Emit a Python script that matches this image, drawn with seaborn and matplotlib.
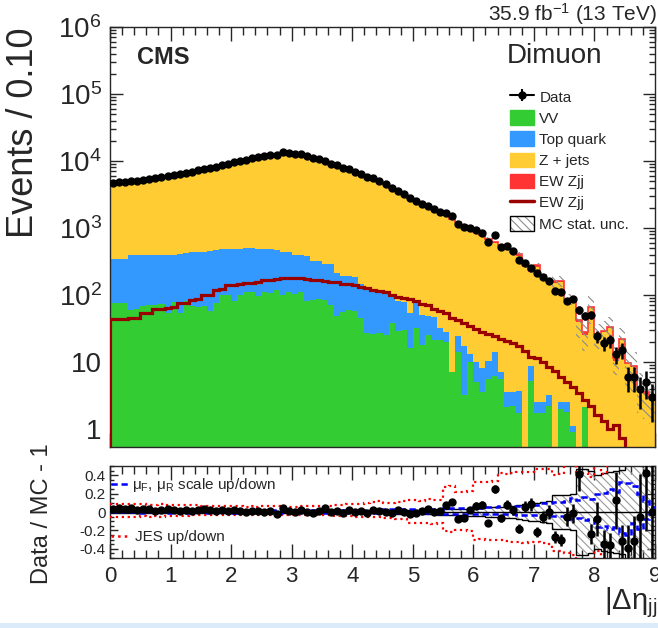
import numpy as np
import pandas as pd
import matplotlib
matplotlib.use("Agg")
import matplotlib.pyplot as plt
import seaborn as sns
from matplotlib.patches import Patch, Rectangle
from matplotlib.lines import Line2D
from matplotlib.legend_handler import HandlerTuple
from matplotlib.ticker import MultipleLocator, LogLocator, FuncFormatter, NullFormatter

# ------------------------------------------------------------------ data
bin_low, bin_high, n_bins = 0.0, 9.0, 90

vv = [76, 76, 75, 60, 62, 68, 70, 71, 72, 54,
      78, 54, 80, 68, 67, 68, 58, 76, 100, 100,
      82, 100, 112, 110, 95, 110, 108, 120, 100, 112,
      105, 112, 82, 85, 86, 84, 71, 48, 56, 59,
      58, 45, 27, 26, 27, 25, 38, 29, 30, 16,
      32, 18, 25, 21, 21, 20, 7, 14, 3.2, 10,
      5, 3.5, 5.5, 6.2, 5.5, 2.1, 2.2, 1.7, 0, 5.2,
      1.7, 1.7, 2.2, 0, 2.0, 1.8, 0.9, 0, 2.1, 0,
      0, 0, 0, 0, 0, 0, 0, 0, 0, 0]

top_quark = [264, 264, 270, 330, 328, 327, 328, 329, 328, 344,
             322, 356, 350, 368, 373, 377, 392, 394, 380, 385,
             408, 390, 383, 385, 395, 370, 370, 355, 345, 328,
             290, 278, 303, 240, 234, 206, 214, 167, 139, 131,
             127, 100, 93, 94, 91, 82, 58, 51, 48, 38,
             44, 33, 23, 26, 11, 8, 0, 10, 13.8, 3,
             5, 4.5, 5, 7.8, 1.5, 1.4, 1.3, 2.0, 0, 3.5,
             0.8, 0.8, 1.0, 0, 0.5, 0.7, 0.2, 0, 0, 0,
             0, 0, 0, 0, 0, 0, 0, 0, 0, 0]

z_jets = [4237, 4297, 4402, 4465, 4575, 4682, 4799, 4968, 5158, 5359,
          5564, 5755, 5954, 6239, 6554, 6865, 7209, 7542, 8009, 8395,
          8807, 9254, 9705, 10193, 10575, 11105, 11512, 11943, 12258, 12262,
          12167, 11734, 11193, 10595, 9982, 9318, 8677, 8140, 7597, 7076,
          6595, 6105, 5645, 5130, 4666, 4251, 3784, 3378, 2993, 2680,
          2354, 2165, 1972, 1801, 1651, 1469, 1327, 1164, 1045, 933,
          829, 744, 654, 582, 521, 466, 418, 383, 264, 211,
          262, 183, 150, 152, 151, 79, 84, 39, 23, 65,
          24.4, 27.7, 32, 10.4, 21.3, 9.5, 8.5, 4.0, 3.3, 2.8]

ew_zjj = [43, 43, 43, 45, 45, 53, 53, 62, 62, 63,
          66, 75, 76, 85, 86, 100, 101, 118, 121, 140,
          143, 146, 150, 152, 155, 165, 170, 172, 177, 178,
          178, 176, 172, 170, 168, 162, 158, 155, 148, 144,
          140, 130, 125, 120, 116, 112, 100, 92, 89, 86,
          80, 74, 70, 62, 57, 53, 46, 42, 38, 34,
          31, 28, 26, 24, 22, 20.5, 19, 17, 14.5, 12,
          11.5, 10, 8.5, 7.2, 6.0, 5.0, 4.2, 3.4, 2.7, 2.2,
          1.6, 1.3, 1.0, 1.15, 0.72, 0.3, 0.3, 0.25, 0.2, 0.2]

data_counts = [4759, 4867, 4934, 5096, 5110, 5284, 5408, 5484, 5732, 5995,
               6151, 6302, 6589, 6828, 7222, 7632, 7915, 8211, 8782, 9110,
               9629, 9989, 10350, 10948, 11332, 11750, 12282, 12338, 13395, 13009,
               12740, 12546, 11750, 10979, 10575, 10161, 9120, 8595, 7861, 7558,
               6920, 6444, 5831, 5477, 4949, 4470, 3940, 3621, 3160, 2764,
               2485, 2313, 2153, 1910, 1757, 1674, 1532, 1132, 1034, 1000,
               931, 842, 607, 775, 512, 529, 449, 331, 295, 251,
               215, 185, 162, 116, 111, 82, 88, 60, 49, 51,
               24, 19, 21, 13, 15, 6, 6, 4, 5, 3]

mc_stat_rel = [0.012, 0.012, 0.012, 0.011, 0.011, 0.011, 0.011, 0.010, 0.010, 0.010,
               0.010, 0.010, 0.010, 0.010, 0.010, 0.010, 0.010, 0.010, 0.010, 0.010,
               0.010, 0.010, 0.010, 0.010, 0.010, 0.010, 0.010, 0.010, 0.010, 0.010,
               0.010, 0.010, 0.011, 0.011, 0.011, 0.012, 0.012, 0.012, 0.013, 0.013,
               0.014, 0.014, 0.015, 0.015, 0.016, 0.017, 0.018, 0.019, 0.020, 0.021,
               0.022, 0.023, 0.025, 0.026, 0.028, 0.030, 0.032, 0.034, 0.036, 0.040,
               0.045, 0.048, 0.050, 0.052, 0.055, 0.060, 0.070, 0.080, 0.090, 0.095,
               0.100, 0.110, 0.120, 0.190, 0.190, 0.190, 0.200, 0.470, 0.470, 0.450,
               0.400, 0.420, 0.440, 0.450, 0.460, 0.600, 0.600, 0.600, 0.600, 0.600]

scale_up = [0.022, 0.020, 0.021, 0.019, 0.020, 0.021, 0.020, 0.019, 0.020, 0.021,
            0.020, 0.019, 0.020, 0.021, 0.020, 0.019, 0.020, 0.020, 0.021, 0.020,
            0.019, 0.020, 0.020, 0.021, 0.020, 0.019, 0.020, 0.021, 0.020, 0.020,
            0.021, 0.020, 0.020, 0.022, 0.021, 0.022, 0.023, 0.022, 0.024, 0.025,
            0.025, 0.026, 0.027, 0.026, 0.028, 0.030, 0.029, 0.031, 0.032, 0.030,
            0.033, 0.034, 0.036, 0.035, 0.038, 0.040, 0.042, 0.045, 0.043, 0.048,
            0.050, 0.048, 0.052, 0.055, 0.060, 0.065, 0.062, 0.070, 0.075, 0.072,
            0.080, 0.095, 0.100, 0.110, 0.105, 0.120, 0.150, 0.130, 0.160, 0.140,
            0.200, 0.210, 0.250, 0.220, 0.330, 0.320, 0.280, 0.200, 0.120, 0.050]

scale_down = [-0.004, -0.005, -0.003, -0.005, -0.004, -0.006, -0.005, -0.004, -0.005, -0.006,
              -0.005, -0.004, -0.006, -0.005, -0.004, -0.005, -0.006, -0.005, -0.004, -0.005,
              -0.006, -0.005, -0.004, -0.005, -0.006, -0.005, -0.004, -0.005, -0.006, -0.005,
              -0.005, -0.006, -0.005, -0.007, -0.006, -0.008, -0.007, -0.008, -0.009, -0.010,
              -0.010, -0.011, -0.010, -0.012, -0.012, -0.013, -0.012, -0.014, -0.015, -0.014,
              -0.015, -0.016, -0.015, -0.017, -0.018, -0.017, -0.019, -0.020, -0.018, -0.021,
              -0.020, -0.022, -0.021, -0.024, -0.025, -0.023, -0.027, -0.030, -0.028, -0.032,
              -0.035, -0.040, -0.042, -0.045, -0.040, -0.055, -0.080, -0.070, -0.090, -0.080,
              -0.160, -0.150, -0.180, -0.160, -0.230, -0.250, -0.120, -0.180, -0.080, -0.020]

jes_up = [0.085, 0.086, 0.083, 0.085, 0.082, 0.084, 0.081, 0.080, 0.083, 0.080,
          0.079, 0.076, 0.078, 0.074, 0.071, 0.070, 0.066, 0.062, 0.060, 0.064,
          0.061, 0.060, 0.057, 0.060, 0.059, 0.061, 0.064, 0.060, 0.058, 0.056,
          0.059, 0.061, 0.064, 0.060, 0.062, 0.065, 0.069, 0.071, 0.078, 0.085,
          0.090, 0.092, 0.100, 0.110, 0.118, 0.100, 0.102, 0.110, 0.118, 0.130,
          0.128, 0.122, 0.138, 0.132, 0.130, 0.270, 0.280, 0.220, 0.218, 0.230,
          0.330, 0.328, 0.322, 0.340, 0.420, 0.410, 0.420, 0.430, 0.432, 0.440,
          0.470, 0.468, 0.462, 0.400, 0.410, 0.620, 0.550, 0.400, 0.420, 0.380,
          0.550, 0.410, 0.600, 0.620, 0.700, 0.650, 0.700, 0.750, 0.700, 0.700]

jes_down = [-0.050, -0.052, -0.049, -0.050, -0.051, -0.048, -0.050, -0.047, -0.049, -0.046,
            -0.045, -0.043, -0.040, -0.038, -0.036, -0.034, -0.032, -0.030, -0.031, -0.029,
            -0.030, -0.028, -0.031, -0.030, -0.029, -0.032, -0.030, -0.028, -0.031, -0.030,
            -0.029, -0.031, -0.033, -0.030, -0.034, -0.036, -0.038, -0.040, -0.045, -0.048,
            -0.050, -0.049, -0.052, -0.050, -0.055, -0.068, -0.070, -0.072, -0.075, -0.118,
            -0.120, -0.122, -0.118, -0.125, -0.120, -0.210, -0.212, -0.200, -0.198, -0.205,
            -0.300, -0.298, -0.305, -0.300, -0.300, -0.320, -0.330, -0.330, -0.335, -0.330,
            -0.330, -0.340, -0.350, -0.420, -0.420, -0.450, -0.470, -0.600, -0.600, -0.550,
            -0.420, -0.600, -0.550, -0.650, -0.600, -0.700, -0.700, -0.700, -0.700, -0.700]

process_names = ["EW Zjj", "Z + jets", "Top quark", "VV"]   # stack: first = top
legend_labels = ["Data", "VV", "Top quark", "Z + jets", "EW Zjj", "EW Zjj", "MC stat. unc."]

# ------------------------------------------------------------------ style
sns.set_style("ticks")
plt.rcParams["font.family"] = ["Liberation Sans", "DejaVu Sans"]
plt.rcParams["mathtext.fontset"] = "custom"
plt.rcParams["mathtext.rm"] = "Liberation Sans"
plt.rcParams["mathtext.it"] = "Liberation Sans:italic"
plt.rcParams["mathtext.bf"] = "Liberation Sans:bold"
plt.rcParams["hatch.linewidth"] = 0.8
plt.rcParams["axes.linewidth"] = 1.0

c_vv, c_top, c_zj, c_ewf, c_ewl = "#33cc33", "#3399ff", "#ffcc33", "#ff3333", "#990000"
palette = {"VV": c_vv, "Top quark": c_top, "Z + jets": c_zj, "EW Zjj": c_ewf}

edges = np.linspace(bin_low, bin_high, n_bins + 1)
centers = 0.5 * (edges[:-1] + edges[1:])
vv_a, top_a, zj_a, ew_a = map(np.asarray, (vv, top_quark, z_jets, ew_zjj))
data_a = np.asarray(data_counts, dtype=float)
mc_total = vv_a + top_a + zj_a + ew_a
mc_rel = np.asarray(mc_stat_rel)

df = pd.DataFrame({
    "x": np.tile(centers, 4),
    "w": np.concatenate([ew_a, zj_a, top_a, vv_a]).astype(float),
    "process": np.repeat(process_names, n_bins),
})

W, H = 658, 628
fig = plt.figure(figsize=(W / 100, H / 100), dpi=100)
ax1 = fig.add_axes([110 / W, 1 - 447 / H, 545 / W, 420 / H])
ax2 = fig.add_axes([110 / W, 1 - 558 / H, 545 / W, 92 / H])

# ------------------------------------------------------------------ top panel
sns.histplot(data=df, x="x", weights="w", hue="process", hue_order=process_names,
             bins=[float(e) for e in edges], multiple="stack", element="step", fill=True,
             palette=palette, alpha=1, linewidth=0, legend=False, ax=ax1)
ax1.set_yscale("log")
ax1.stairs(mc_total, edges, color=c_ewf, lw=1.2, baseline=None, zorder=3)
ax1.fill_between(edges, np.append(mc_total * (1 - mc_rel), mc_total[-1] * (1 - mc_rel[-1])),
                 np.append(mc_total * (1 + mc_rel), mc_total[-1] * (1 + mc_rel[-1])),
                 step="post", facecolor="none", edgecolor="0.55", hatch=r"\\\\", lw=0, zorder=3)
ax1.stairs(ew_a, edges, color=c_ewl, lw=2.3, baseline=0, zorder=4)
ax1.errorbar(centers, data_a, yerr=np.sqrt(data_a), fmt="o", color="black", ms=5,
             elinewidth=1.8, capsize=0, zorder=5)

ax1.set_xlim(bin_low, bin_high)
ax1.set_ylim(0.537, 1e6)
ax1.set_xlabel("")
ax1.set_ylabel("")
ax1.xaxis.set_major_locator(MultipleLocator(1))
ax1.xaxis.set_minor_locator(MultipleLocator(0.2))
ax1.yaxis.set_major_locator(LogLocator(base=10, numticks=20))
ax1.yaxis.set_minor_locator(LogLocator(base=10, subs=np.arange(2, 10), numticks=20))
ax1.yaxis.set_major_formatter(FuncFormatter(
    lambda v, p: "1" if abs(v - 1) < 1e-6 else ("10" if abs(v - 10) < 1e-6
                                                 else r"$\mathregular{10^{%d}}$" % round(np.log10(v)))))
ax1.yaxis.set_minor_formatter(NullFormatter())
ax1.tick_params(axis="both", which="both", direction="in", top=True, right=True,
                labelbottom=False, width=1)
ax1.tick_params(axis="x", which="major", length=10)
ax1.tick_params(axis="x", which="minor", length=5.5)
ax1.tick_params(axis="y", which="major", length=9, labelsize=20, pad=6)
ax1.tick_params(axis="y", which="minor", length=4.5)

handles = [
    (Line2D([], [], color="k", marker="o", ms=5, lw=1.5),
     Line2D([], [], color="k", marker="|", ms=9, mew=1.5, lw=0)),
    Patch(facecolor=c_vv, edgecolor=c_vv),
    Patch(facecolor=c_top, edgecolor=c_top),
    Patch(facecolor=c_zj, edgecolor=c_zj),
    Patch(facecolor=c_ewf, edgecolor=c_ewf),
    Line2D([], [], color=c_ewl, lw=2.5),
    (Patch(facecolor="white", edgecolor="0.55", hatch=r"\\\\", lw=0),
     Patch(facecolor="none", edgecolor="k", lw=1)),
]
fig.legend(handles, legend_labels, loc="upper left", bbox_to_anchor=(510 / W, 1 - 89 / H),
           frameon=False, fontsize=11, handlelength=1.57, handleheight=1.1,
           handletextpad=0.35, labelspacing=0.37, borderpad=0, borderaxespad=0,
           handler_map={tuple: HandlerTuple(ndivide=1, pad=0)})

# ------------------------------------------------------------------ ratio panel
ratio = data_a / mc_total - 1
ratio_err = np.sqrt(data_a) / mc_total
ax2.fill_between(edges, np.append(-mc_rel, -mc_rel[-1]), np.append(mc_rel, mc_rel[-1]),
                 step="post", facecolor="none", edgecolor="0.6", hatch=r"\\\\", lw=0, zorder=1)
ax2.stairs(mc_rel, edges, color="k", lw=1.0, baseline=None, zorder=2)
ax2.stairs(-mc_rel, edges, color="k", lw=1.0, baseline=None, zorder=2)
ax2.stairs(jes_up, edges, color="red", ls=":", lw=1.6, baseline=None, zorder=3)
ax2.stairs(jes_down, edges, color="red", ls=":", lw=1.6, baseline=None, zorder=3)
ax2.stairs(scale_up, edges, color="blue", ls=(0, (2.5, 1.5)), lw=1.8, baseline=None, zorder=4)
ax2.stairs(scale_down, edges, color="blue", ls=(0, (2.5, 1.5)), lw=1.8, baseline=None, zorder=4)
ax2.axhline(0, color="k", lw=1.0, zorder=4)
ax2.errorbar(centers, ratio, yerr=ratio_err, fmt="o", color="black", ms=5,
             elinewidth=1.8, capsize=0, zorder=6)

ax2.set_xlim(bin_low, bin_high)
ax2.set_ylim(-0.5, 0.5)
ax2.xaxis.set_major_locator(MultipleLocator(1))
ax2.xaxis.set_minor_locator(MultipleLocator(0.2))
ax2.yaxis.set_major_locator(MultipleLocator(0.2))
ax2.yaxis.set_minor_locator(MultipleLocator(0.05))
ax2.xaxis.set_major_formatter(FuncFormatter(lambda v, p: "%d" % round(v)))
ax2.yaxis.set_major_formatter(FuncFormatter(lambda v, p: "0" if abs(v) < 1e-9 else "%.1f" % v))
ax2.tick_params(axis="both", which="both", direction="in", top=True, right=True, width=1)
ax2.tick_params(axis="x", which="major", length=10, labelsize=16, pad=6)
ax2.tick_params(axis="x", which="minor", length=5.5)
ax2.tick_params(axis="y", which="major", length=6, labelsize=11, pad=3)
ax2.tick_params(axis="y", which="minor", length=3)

leg1 = ax2.legend([Line2D([], [], color="blue", ls=(0, (2.5, 1.5)), lw=1.8)],
                  [r"μ$_\mathregular{F}$, μ$_\mathregular{R}$ scale up/down"],
                  loc="upper left", bbox_to_anchor=(0.002, 0.89), frameon=False, fontsize=11,
                  handlelength=1.2, handletextpad=0.15, borderpad=0, borderaxespad=0)
ax2.add_artist(leg1)
ax2.legend([Line2D([], [], color="red", ls=":", lw=1.8)], ["JES up/down"],
           loc="upper left", bbox_to_anchor=(0.002, 0.30), frameon=False, fontsize=11,
           handlelength=1.2, handletextpad=0.35, borderpad=0, borderaxespad=0)

# ------------------------------------------------------------------ texts
fig.text(24 / W, 1 - 28 / H, "Events / 0.10", rotation=90, ha="center", va="top", fontsize=26)
fig.text(42 / W, 1 - 514 / H, "Data / MC - 1", rotation=90, ha="center", va="center", fontsize=17)
fig.text(137 / W, 1 - 58 / H, "CMS", fontweight="bold", fontsize=17, va="center")
fig.text(507 / W, 1 - 56 / H, "Dimuon", fontsize=20, va="center")
fig.text(657 / W, 1 - 14 / H, r"35.9 fb$^{\mathregular{-1}}$ (13 TeV)", ha="right", va="center", fontsize=15)
fig.text(604 / W, 1 - 609 / H, r"|Δη$_\mathregular{jj}$|", ha="left", va="baseline", fontsize=21)

fig.patches.append(Rectangle((0, 0), 1, 5 / H, transform=fig.transFigure,
                             facecolor="#dcebfa", edgecolor="none", zorder=-1))

fig.savefig("out.png", dpi=100)
